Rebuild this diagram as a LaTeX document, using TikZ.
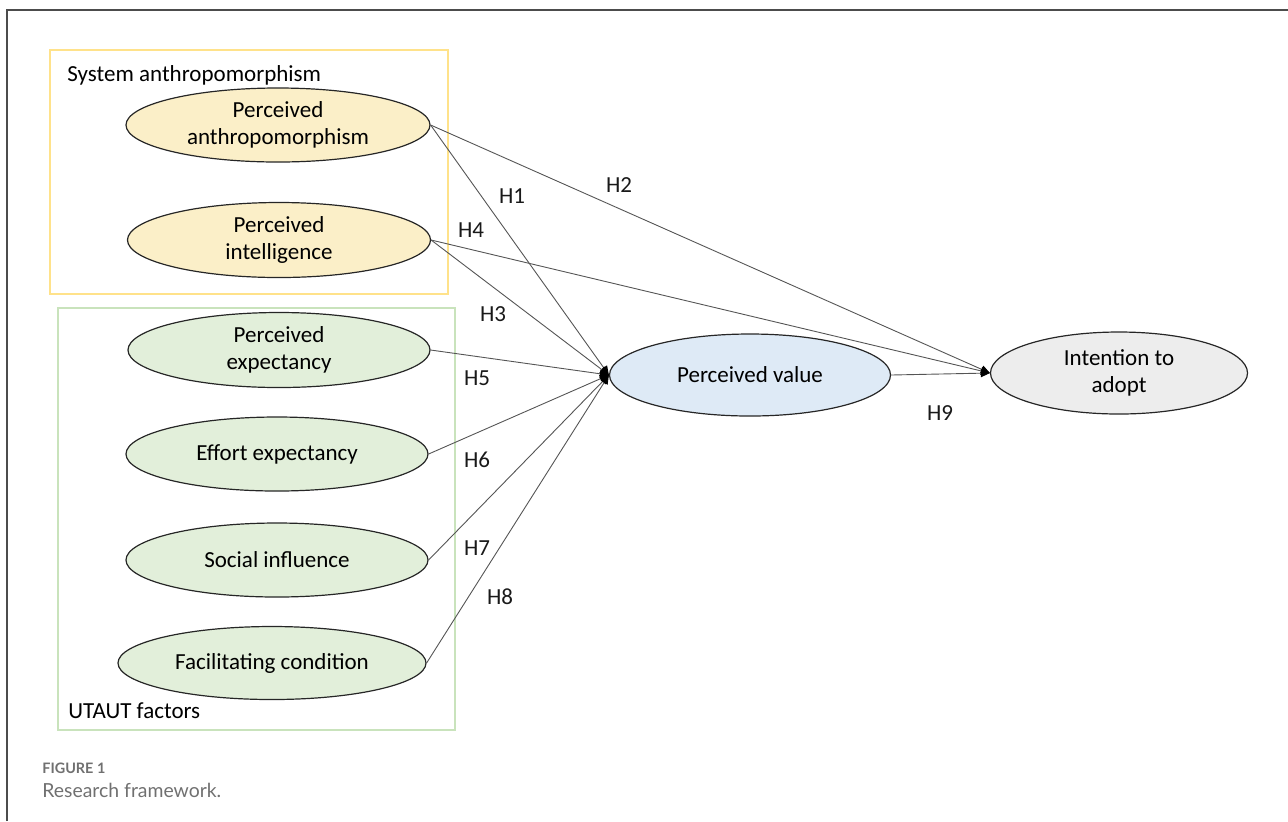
\documentclass[tikz,border=0pt]{standalone}
\usepackage{fontspec}
\setmainfont{Carlito}
\newfontfamily\capfont{Lato}
\usetikzlibrary{shapes.geometric,arrows.meta}
\definecolor{ylwfill}{HTML}{FBEFC8}
\definecolor{ylwbox}{HTML}{FFE28A}
\definecolor{grnfill}{HTML}{E2EFDA}
\definecolor{grnbox}{HTML}{C9E3BC}
\definecolor{bluefill}{HTML}{DEEAF6}
\definecolor{greyfill}{HTML}{EDEDED}
\definecolor{linkcol}{HTML}{555555}
\definecolor{capgrey}{HTML}{707070}
\begin{document}
\begin{tikzpicture}[x=0.5pt,y=-0.5pt,
  font=\fontsize{11.5}{13.7}\selectfont,
  oval/.style={ellipse,draw=black!85,line width=0.6pt,inner sep=0pt,align=center},
  yl/.style={oval,fill=ylwfill},
  gr/.style={oval,fill=grnfill},
  link/.style={draw=linkcol,line width=0.45pt,-{Triangle[length=4.5pt,width=4pt,color=black,fill=black]}},
  hlab/.style={inner sep=0pt,text=black!90},
  grp/.style={line width=0.7pt}]
\useasboundingbox (0,0) rectangle (1288,821);
% outer frame
\draw[black!70,line width=0.6pt] (7,821) -- (7,10) -- (1288,10);
% group boxes
\draw[grp,draw=ylwbox] (50,50) rectangle (448,294);
\draw[grp,draw=grnbox] (58,308) rectangle (455,730);
\node[anchor=west,inner sep=0pt] (lsys) at (67,75) {System anthropomorphism};
\node[anchor=west,inner sep=0pt] (lut) at (68,711) {UTAUT factors};
% ellipses
\node[yl,minimum width=152pt,minimum height=37pt] (pa) at (278,125) {Perceived\\anthropomorphism};
\node[yl,minimum width=151.5pt,minimum height=37.5pt] (pi) at (279,240) {Perceived\\intelligence};
\node[gr,minimum width=151pt,minimum height=37.5pt] (pe) at (279,350) {Perceived\\expectancy};
\node[gr,minimum width=151pt,minimum height=37pt] (ee) at (277,454) {Effort expectancy};
\node[gr,minimum width=151pt,minimum height=37pt] (si) at (277,560) {Social influence};
\node[gr,minimum width=154pt,minimum height=36.5pt] (fc) at (272,663) {Facilitating condition};
\node[oval,fill=bluefill,minimum width=140.5pt,minimum height=41pt] (pv) at (750,375) {Perceived value};
\node[oval,fill=greyfill,minimum width=128.5pt,minimum height=41pt] (ia) at (1119,373) {Intention to\\adopt};
% connectors
\draw[link] (pa.east) -- (pv.west);
\draw[link] (pa.east) -- (ia.west);
\draw[link] (pi.east) -- (pv.west);
\draw[link] (pi.east) -- (ia.west);
\draw[link] (pe.east) -- (pv.west);
\draw[link] (ee.east) -- (pv.west);
\draw[link] (si.east) -- (pv.west);
\draw[link] (fc.east) -- (pv.west);
\draw[link] (pv.east) -- (ia.west);
% labels
\node[hlab] (h1) at (512,196) {H1};
\node[hlab] (h2) at (619,185) {H2};
\node[hlab] (h3) at (493,314) {H3};
\node[hlab] (h4) at (471,230) {H4};
\node[hlab] (h5) at (477,378) {H5};
\node[hlab] (h6) at (477,460) {H6};
\node[hlab] (h7) at (477,548) {H7};
\node[hlab] (h8) at (500,597) {H8};
\node[hlab] (h9) at (940,413) {H9};
% caption
\node[anchor=west,inner sep=0pt,text=capgrey,font=\capfont\bfseries\fontsize{7.2}{8}\selectfont] (fig) at (42,768) {FIGURE 1};
\node[anchor=west,inner sep=0pt,text=capgrey,font=\capfont\fontsize{9.7}{12}\selectfont] (cap) at (42,790) {Research framework.};
\end{tikzpicture}
\end{document}
